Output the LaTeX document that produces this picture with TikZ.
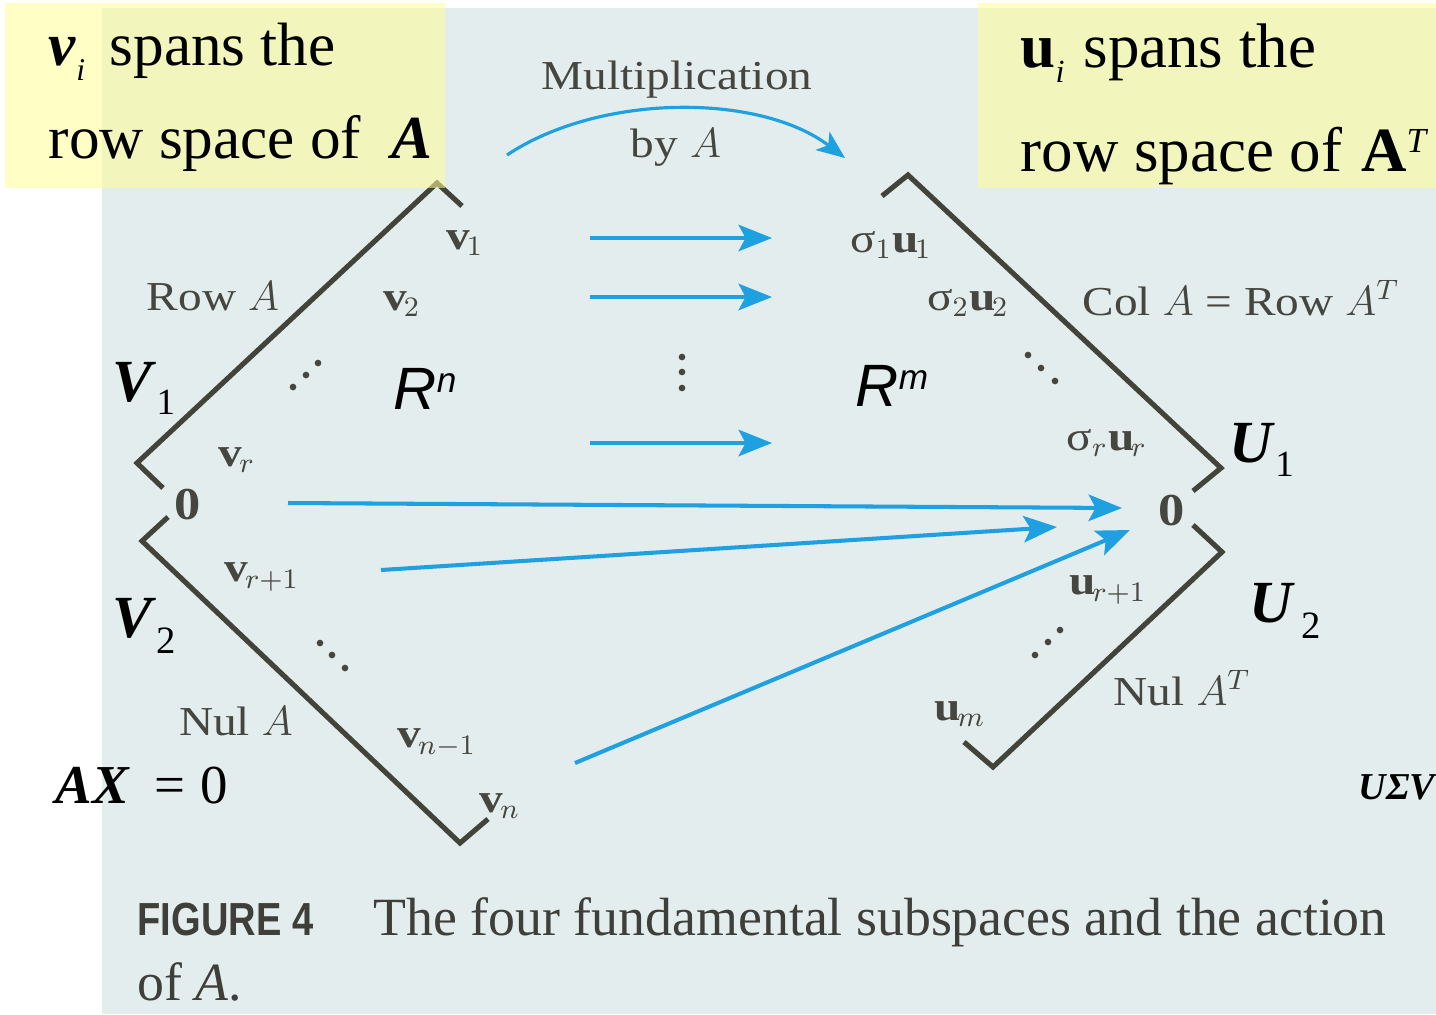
\documentclass[tikz,border=0pt]{standalone}
\usepackage{fontspec}
\setmainfont[FakeStretch=1.15]{Liberation Serif}
\newfontfamily\boxfont{Liberation Serif}
\newfontfamily\figfont[FakeStretch=0.82]{Liberation Sans}
\newfontfamily\arialfont{Liberation Sans}
\usetikzlibrary{arrows.meta}
\definecolor{page}{RGB}{227,237,237}
\definecolor{hl}{RGB}{255,255,150}
\definecolor{ink}{RGB}{66,68,58}
\definecolor{txt}{RGB}{70,70,64}
\definecolor{capink}{RGB}{62,62,58}
\definecolor{arrowblue}{RGB}{30,160,225}
\tikzset{
  frame/.style={draw=ink, line width=1.45pt, line join=miter},
  lab/.style={inner sep=0pt, text=txt, font=\fontsize{11.7}{14}\selectfont},
  big/.style={inner sep=0pt, anchor=base west, text=black},
  blk/.style={inner sep=0pt, anchor=base west, text=black, font=\boxfont},
  maparrow/.style={draw=arrowblue, line width=1.15pt, -{Stealth[length=9.5pt,width=7.5pt,inset=2pt]}},
  arcarrow/.style={draw=arrowblue, line width=0.9pt, -{Stealth[length=8pt,width=6.5pt,inset=2pt]}},
  dot/.style={fill=txt},
  caption/.style={inner sep=0pt, anchor=base west, text=capink},
}
\newcommand\lsub[2]{#1\raisebox{-0.25em}{\fontsize{#2}{#2}\selectfont\itshape i}}
\begin{document}
\begin{tikzpicture}[x=0.01cm,y=-0.01cm]
\useasboundingbox (0,0) rectangle (1436,1014);
\fill[white] (0,0) rectangle (1436,1014);
\fill[page] (102,8) rectangle (1436,1014);

% ---- diamond frames
\coordinate (T1) at (462,206); \coordinate (P1) at (437,183);
\coordinate (P2) at (137,463); \coordinate (T2) at (163,488);
\coordinate (T3) at (168,517); \coordinate (P3) at (142,541);
\coordinate (P4) at (460,843); \coordinate (T4) at (488,819);
\coordinate (T5) at (882,196); \coordinate (P5) at (908,175);
\coordinate (P6) at (1221,468); \coordinate (T6) at (1193,491);
\coordinate (T7) at (1193,525); \coordinate (P7) at (1222,552);
\coordinate (P8) at (993,767); \coordinate (T8) at (964,742);
\draw[frame] (T1) -- (P1) -- (P2) -- (T2);
\draw[frame] (T3) -- (P3) -- (P4) -- (T4);
\draw[frame] (T5) -- (P5) -- (P6) -- (T6);
\draw[frame] (T7) -- (P7) -- (P8) -- (T8);

% ---- yellow highlight boxes
\fill[hl, opacity=0.55] (5,3) rectangle (445,188);
\fill[hl, opacity=0.55] (978,3) rectangle (1436,188);

% ---- box texts
\node[blk, font=\boxfont\fontsize{17.4}{20}\selectfont] (lb1) at (48,65)
  {\lsub{\textbf{\textit{v}}}{9}\hspace{0.4em}spans the};
\node[blk, font=\boxfont\fontsize{17.4}{20}\selectfont] (lb2) at (48,158)
  {row space of\ \ \textbf{\textit{A}}};
\node[blk, font=\boxfont\fontsize{17.9}{20}\selectfont] (rb1) at (1020,67)
  {\lsub{\textbf{u}}{9.2}\hspace{0.3em}spans the};
\node[blk, font=\boxfont\fontsize{17.9}{20}\selectfont] (rb2) at (1020,171)
  {row space of\hspace{0.3em}\textbf{A}\raisebox{0.3em}{\fontsize{10}{10}\selectfont\itshape T}};

% ---- multiplication arc
\node[lab] (mult) at (677,80) {Multiplication};
\node[lab] (bya) at (676,148) {by $A$};
\coordinate (a0) at (507,155); \coordinate (a1) at (845,158);
\draw[arcarrow] (a0) .. controls (600,93) and (760,93) .. (a1);

% ---- left labels
\node[lab] (v1) at (465,243) {$\mathbf{v}_1$};
\node[lab] (rowA) at (213,296) {Row $A$};
\node[lab] (v2) at (402,304) {$\mathbf{v}_2$};
\node[lab] (vr) at (237,460) {$\mathbf{v}_r$};
\node[lab, font=\fontsize{13}{14}\selectfont\bfseries] (zeroL) at (188,505) {0};
\node[lab] (vr1) at (262,577) {$\mathbf{v}_{r+1}$};
\node[lab] (nulA) at (236,721) {Nul $A$};
\node[lab] (vn1) at (437,743) {$\mathbf{v}_{n-1}$};
\node[lab] (vn) at (500,806) {$\mathbf{v}_n$};

% ---- right labels
\node[lab] (s1u1) at (891,245) {$\mbox{σ}_1\mathbf{u}_1$};
\node[lab] (s2u2) at (968,303) {$\mbox{σ}_2\mathbf{u}_2$};
\node[lab, anchor=west] (colA) at (1082,298) {Col $A$ = Row $A^T$};
\node[lab] (srur) at (1107,443) {$\mbox{σ}_r\mathbf{u}_r$};
\node[lab, font=\fontsize{13}{14}\selectfont\bfseries] (zeroR) at (1172,511) {0};
\node[lab] (ur1) at (1108,590) {$\mathbf{u}_{r+1}$};
\node[lab, anchor=west] (nulAT) at (1113,688) {Nul $A^T$};
\node[lab] (um) at (960,714) {$\mathbf{u}_m$};

% ---- dots
\foreach \p in {(293,387),(306,375),(318,363),
                (320,643),(332,655),(345,668),
                (682,357),(682,372),(682,388),
                (1028,355),(1041,368),(1055,381),
                (1060,630),(1048,642),(1035,655)}
  \fill[dot] \p circle[radius=0.95pt];

% ---- big labels
\node[big, font=\arialfont\itshape\fontsize{17}{20}\selectfont] (Rn) at (393,409)
  {R\raisebox{0.28em}{\fontsize{10}{10}\selectfont n}};
\node[big, font=\arialfont\itshape\fontsize{17}{20}\selectfont] (Rm) at (855,406)
  {R\raisebox{0.28em}{\fontsize{10}{10}\selectfont m}};
\node[big, font=\boxfont\fontsize{17}{20}\selectfont] (V1) at (112,401)
  {\textbf{\textit{V}}\raisebox{-0.22em}{\fontsize{10.5}{11}\selectfont 1}};
\node[big, font=\boxfont\fontsize{17}{20}\selectfont] (V2) at (112,637)
  {\textbf{\textit{V}}\raisebox{-0.28em}{\fontsize{11}{11}\selectfont 2}};
\node[big, font=\boxfont\fontsize{17}{20}\selectfont] (U1) at (1229,462)
  {\textbf{\textit{U}}\raisebox{-0.25em}{\fontsize{10.5}{11}\selectfont 1}};
\node[big, font=\boxfont\fontsize{17}{20}\selectfont] (U2) at (1249,622)
  {\textbf{\textit{U}}\hspace{0.1em}\raisebox{-0.28em}{\fontsize{11}{11}\selectfont 2}};
\node[big, font=\boxfont\fontsize{15.6}{18}\selectfont] (AX) at (55,803)
  {\textbf{\textit{AX}}\hspace{0.45em}=\hspace{0.28em}0};
\node[big, font=\boxfont\bfseries\itshape\fontsize{10.8}{12}\selectfont] (USV) at (1358,799) {UΣV};

% ---- mapping arrows
\coordinate (s1a) at (590,238); \coordinate (s1b) at (772,238);
\coordinate (s2a) at (590,297); \coordinate (s2b) at (772,297);
\coordinate (s3a) at (590,443); \coordinate (s3b) at (772,443);
\coordinate (l1a) at (288,503); \coordinate (l1b) at (1122,508);
\coordinate (l2a) at (381,570); \coordinate (l2b) at (1057,527);
\coordinate (l3a) at (575,763); \coordinate (l3b) at (1130,530);
\draw[maparrow] (s1a) -- (s1b);
\draw[maparrow] (s2a) -- (s2b);
\draw[maparrow] (s3a) -- (s3b);
\draw[maparrow] (l1a) -- (l1b);
\draw[maparrow] (l2a) -- (l2b);
\draw[maparrow] (l3a) -- (l3b);

% ---- caption
\node[caption, font=\figfont\bfseries\fontsize{13.2}{15}\selectfont] (fig) at (137,935) {FIGURE 4};
\node[caption, font=\boxfont\fontsize{15.3}{18}\selectfont] (cap1) at (373,935)
  {The four fundamental subspaces and the action};
\node[caption, font=\boxfont\fontsize{15.3}{18}\selectfont] (cap2) at (137,1000)
  {of \textit{A}.};
\end{tikzpicture}
\end{document}
